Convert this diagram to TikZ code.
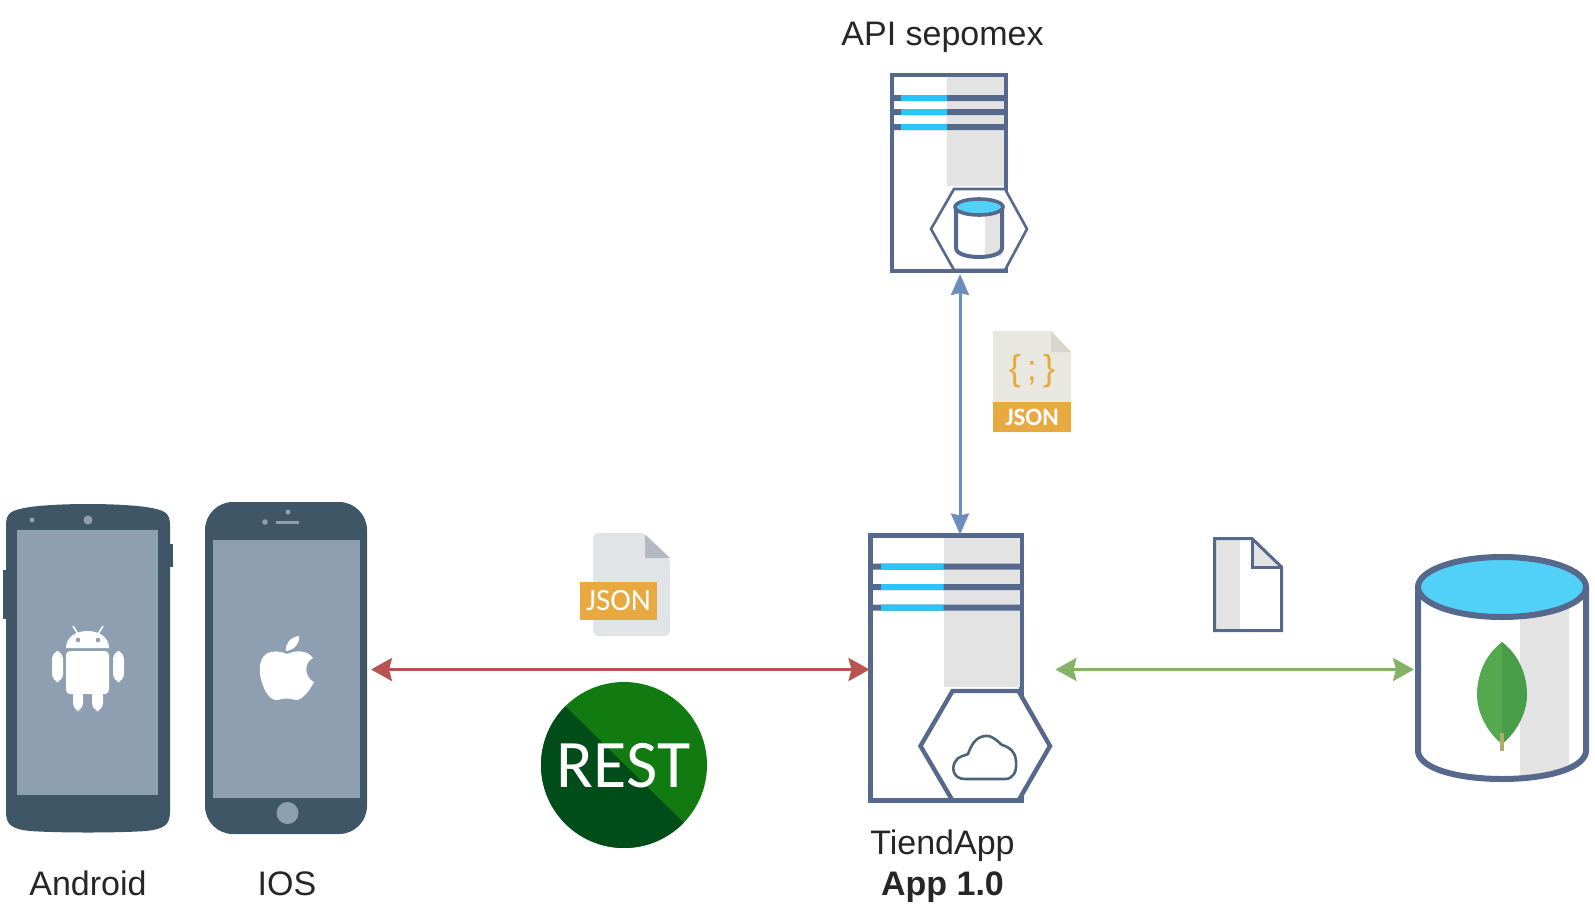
\documentclass[tikz,border=0pt]{standalone}
\usepackage{fontspec}
\setmainfont{Liberation Sans}
\newfontfamily\carlito{Carlito}
\usetikzlibrary{arrows.meta}
\definecolor{phonedark}{HTML}{3F5666}
\definecolor{phonescreen}{HTML}{8D9FB0}
\definecolor{slate}{HTML}{56698C}
\definecolor{panelgray}{HTML}{E3E3E3}
\definecolor{cyanbar}{HTML}{29C5F6}
\definecolor{cyantop}{HTML}{51D0F8}
\definecolor{orangeband}{HTML}{E9A941}
\definecolor{filegray}{HTML}{E1E4E7}
\definecolor{foldgray}{HTML}{B3B9C0}
\definecolor{fileblank}{HTML}{E8E8E0}
\definecolor{foldblank}{HTML}{D6D6CC}
\definecolor{restlight}{HTML}{117A11}
\definecolor{restdark}{HTML}{004D1A}
\definecolor{leafa}{HTML}{55A84D}
\definecolor{leafb}{HTML}{479D48}
\definecolor{cloudline}{HTML}{4B6478}
\definecolor{redline}{HTML}{B85450}
\definecolor{greenline}{HTML}{82B366}
\definecolor{blueline}{HTML}{6C8EBF}
\tikzset{
  label text/.style={font=\fontsize{17}{20}\selectfont,text=black!85,anchor=base,inner sep=0pt},
  link/.style={line width=1.5pt,{Stealth[length=10.5pt,width=11.5pt,inset=1.5pt]}-{Stealth[length=10.5pt,width=11.5pt,inset=1.5pt]}},
  box/.style={draw=slate,fill=white,inner sep=0pt,outer sep=0pt},
  hex/.style={draw=slate,fill=white,line join=miter},
}
\begin{document}
\begin{tikzpicture}[x=0.5pt,y=-0.5pt]
\useasboundingbox (0,0) rectangle (1595,910);

% ---------- Android phone
\fill[phonedark] (3,570) rectangle (8,619);
\fill[phonedark] (168,544) rectangle (173,567);
\fill[phonedark] (6,525) .. controls (6,512) and (12,510) .. (30,507)
  .. controls (60,503) and (116,503) .. (146,507)
  .. controls (164,510) and (170,512) .. (170,525)
  -- (170,812) .. controls (170,825) and (164,829) .. (146,831)
  .. controls (116,833) and (60,833) .. (30,831)
  .. controls (12,829) and (6,825) .. (6,812) -- cycle;
\fill[phonescreen] (17,530) rectangle (158,795);
\fill[phonescreen] (88,520) circle (4.5);
\fill[phonescreen] (32,520) circle (2.5);
% Android robot
\fill[white] (66,648) .. controls (66,637) and (76,631) .. (87.5,631) .. controls (99,631) and (109,637) .. (109,648) -- cycle;
\draw[white,line width=0.8pt] (73,626) -- (78,634) (103,626) -- (98,634);
\fill[phonescreen] (78,640) circle (2.3) (98,640) circle (2.3);
\fill[white,rounded corners=2] (66,651) rectangle (109,694);
\fill[white,rounded corners=4] (52,651) rectangle (63,682);
\fill[white,rounded corners=4] (113,651) rectangle (124,682);
\fill[white,rounded corners=4] (73,688) rectangle (83,711);
\fill[white,rounded corners=4] (92,688) rectangle (103,711);

% ---------- iOS phone
\node[fill=phonedark,rounded corners=14pt,inner sep=0pt,outer sep=0pt,minimum width=81pt,minimum height=166pt] (ios) at (286,668) {};
\fill[phonescreen] (213,540) rectangle (360,798);
\fill[phonescreen] (287.5,813) circle (11);
\fill[phonescreen] (288,512) circle (2.6);
\fill[phonescreen] (265,522) circle (2.8);
\fill[phonescreen] (276,520.5) rectangle (299,523.5);
% Apple logo
\fill[white] (287,654) .. controls (280,651) and (272,650) .. (266,654)
  .. controls (258,660) and (258,675) .. (264,688)
  .. controls (268,697) and (273,701) .. (278,700)
  .. controls (283,698) and (290,698) .. (295,700)
  .. controls (302,701) and (310,690) .. (314,682)
  .. controls (305,678) and (303,663) .. (313,658)
  .. controls (307,650) and (296,650) .. (287,654) -- cycle;
\fill[white] (286,651) .. controls (285,643) and (291,637) .. (299,636)
  .. controls (300,644) and (294,650) .. (286,651) -- cycle;

\node[label text] (androidlabel) at (88,895) {Android};
\node[label text] (ioslabel) at (287,895) {IOS};

% ---------- JSON file (grey)
\fill[filegray,rounded corners=3] (593,533) -- (645,533) -- (670,558) -- (670,636) -- (593,636) -- cycle;
\fill[foldgray] (645,535) -- (670,558) -- (645,558) -- cycle;
\node[fill=orangeband,inner sep=0pt,outer sep=0pt,minimum width=38.5pt,minimum height=19pt,text=white,font=\carlito\fontsize{15.5}{18}\selectfont] (jsona) at (618.5,601) {JSON};

% ---------- REST badge
\fill[restlight] (624,765) circle (83);
\begin{scope}
  \clip (624,765) circle (83);
  \fill[restdark] (520,650) -- (566,707) -- (683,822) -- (730,880) -- (520,880) -- cycle;
\end{scope}
\node[text=white,inner sep=0pt,anchor=base,font=\carlito\fontsize{34}{36}\selectfont] (rest) at (623.5,787) {REST};

% ---------- TiendApp server
\node[box,line width=2.5pt,minimum width=75.5pt,minimum height=132.5pt] (tiend) at (946,668) {};
\fill[panelgray] (943.5,538) rectangle (1020,687);
\fill[slate] (871,563.5) rectangle (1020,569.5) (871,584) rectangle (1020,590) (871,604.5) rectangle (1020,610.5);
\fill[cyanbar] (881,563.5) rectangle (943.5,569.5) (881,584) rectangle (943.5,590) (881,604.5) rectangle (943.5,610.5);
\draw[hex,line width=2.2pt] (920.5,746) -- (952.5,691) -- (1018.5,691) -- (1050,746) -- (1018.5,800.5) -- (952.5,800.5) -- cycle;
\draw[slate,line width=2.5pt] (868,800.5) -- (1024,800.5);
\draw[cloudline,line width=1.3pt,line join=round] (965,779)
  .. controls (954,779) and (951,769) .. (955,762)
  .. controls (958,756) and (964,756) .. (968,754)
  .. controls (971,746) and (975,737) .. (985,736)
  .. controls (993,735) and (998,742) .. (1002,745)
  .. controls (1010,747) and (1016,753) .. (1016,762)
  .. controls (1017,772) and (1013,779) .. (1005,779) -- cycle;
\node[label text] (tiendlabel) at (942.5,854) {TiendApp};
\node[label text,font=\fontsize{17}{20}\selectfont\bfseries] (applabel) at (942.5,895) {App 1.0};

% ---------- API sepomex server
\node[label text] (apilabel) at (942.5,45) {API sepomex};
\node[box,line width=2pt,minimum width=57pt,minimum height=98pt] (api) at (949,173) {};
\fill[panelgray] (947,77) rectangle (1004,186);
\fill[slate] (894,95) rectangle (1004,101) (894,109) rectangle (1004,115) (894,124) rectangle (1004,130);
\fill[cyanbar] (901,95) rectangle (947,101) (901,109) rectangle (947,115) (901,124) rectangle (947,130);
\draw[hex,line width=1.3pt] (931,229) -- (954,189) -- (1005,189) -- (1027,229) -- (1005,270) -- (954,270) -- cycle;
\draw[slate,line width=2pt] (890,271) -- (1008,271);
\fill[white] (956,207) rectangle (1002,254);
\fill[panelgray] (985,212) rectangle (1001,256);
\draw[slate,line width=2pt] (956,207) -- (956,248) .. controls (956,260) and (1002,260) .. (1002,248) -- (1002,207);
\draw[slate,line width=1.8pt,fill=cyantop] (979,207) ellipse (24 and 8);

% ---------- JSON file (beige)
\fill[fileblank] (993,331) -- (1051,331) -- (1071,352) -- (1071,432) -- (993,432) -- cycle;
\fill[foldblank] (1051,331) -- (1071,352) -- (1051,352) -- cycle;
\node[inner sep=0pt,text=orangeband,font=\fontsize{18}{20}\selectfont] (braces) at (1032,371) {\{\,;\,\}};
\node[fill=orangeband,inner sep=0pt,outer sep=0pt,minimum width=39pt,minimum height=15pt,text=white,font=\carlito\bfseries\fontsize{12.5}{14}\selectfont] (jsonb) at (1032,417) {JSON};

% ---------- Plain document
\fill[white] (1214.5,538.5) -- (1252,538.5) -- (1281.5,567) -- (1281.5,630.5) -- (1214.5,630.5) -- cycle;
\fill[panelgray] (1216,540) rectangle (1240,629);
\fill[panelgray] (1252,540) -- (1281,567) -- (1252,567) -- cycle;
\draw[slate,line width=1.5pt,line join=miter] (1214.5,538.5) -- (1252,538.5) -- (1281.5,567) -- (1281.5,630.5) -- (1214.5,630.5) -- cycle;
\draw[slate,line width=1.5pt] (1252,538.5) -- (1252,567) -- (1281.5,567);

% ---------- MongoDB cylinder
\fill[white] (1418,587) rectangle (1586,770);
\fill[panelgray] (1520,610) -- (1569,600) -- (1569,768) -- (1520,778) -- cycle;
\node[inner sep=0pt,outer sep=0pt,minimum width=84pt,minimum height=112pt] (mongo) at (1502,668) {};
\draw[slate,line width=3pt] (1418,587) -- (1418,752) .. controls (1424,788) and (1580,788) .. (1586,752) -- (1586,587);
\draw[slate,line width=3pt,fill=cyantop] (1502,587) ellipse (84 and 30);
\fill[leafa] (1502,642) .. controls (1485,655) and (1477,675) .. (1477,695) .. controls (1477,715) and (1490,735) .. (1502,744) -- cycle;
\fill[leafb] (1502,642) .. controls (1519,655) and (1527,675) .. (1527,695) .. controls (1527,715) and (1514,735) .. (1502,744) -- cycle;
\draw[black!30!olive!55,line width=2pt] (1502,733) -- (1502,751);

% ---------- Connectors
\draw[link,redline] ([shift={(4,1.5)}]ios.east) -- ([shift={(-1,1.5)}]tiend.west);
\draw[link,greenline] ([shift={(34,1.5)}]tiend.east) -- ([shift={(-4,1.5)}]mongo.west);
\draw[link,blueline,{Stealth[length=10.5pt,width=9pt,inset=1pt]}-{Stealth[length=10.5pt,width=9pt,inset=1pt]}] ([shift={(11,3)}]api.south) -- ([shift={(14,-1)}]tiend.north);
\end{tikzpicture}
\end{document}
